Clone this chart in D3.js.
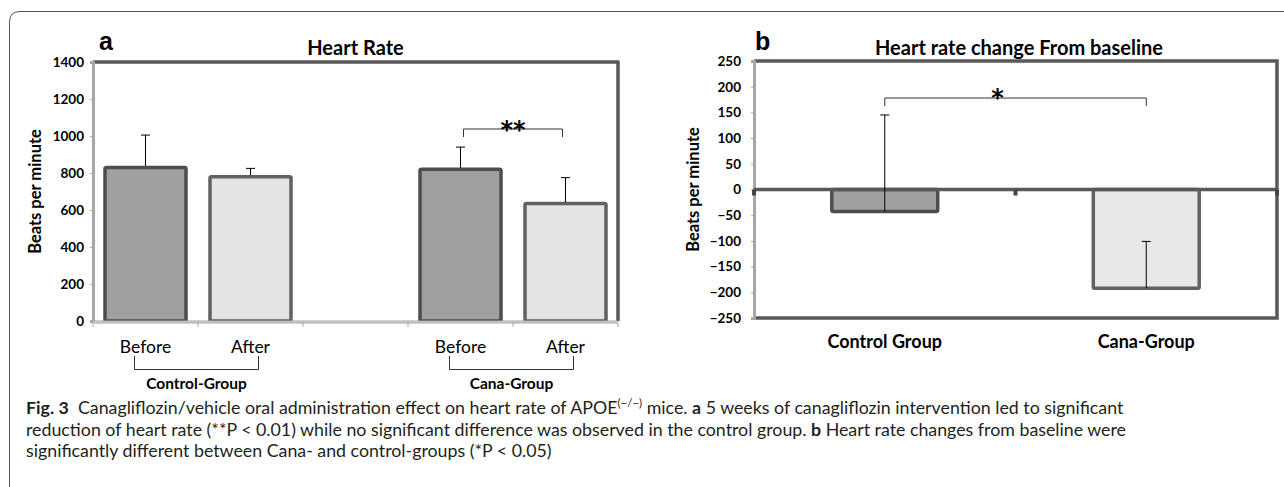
<!DOCTYPE html>
<html>
<head>
<meta charset="utf-8">
<script src="https://cdn.jsdelivr.net/npm/d3@7"></script>
<style>
  body { margin: 0; background: #fff; }
  svg { display: block; }
</style>
</head>
<body>
<svg id="fig"></svg>
<script>
//panel a data
const heartCategories = ["Before", "After", "", "Before", "After"];
const heartMeans = [830, 780, null, 820, 635];
const heartErrors = [175, 45, null, 120, 140];
const heartTicks = [0, 200, 400, 600, 800, 1000, 1200, 1400];
const heartGroups = ["Control-Group", "", "Cana-Group"];

//panel b data
const changeCategories = ["Control Group", "Cana-Group"];
const changeMeans = [-43, -192];
const changeErrors = [188, 91];
const changeTicks = [-250, -200, -150, -100, -50, 0, 50, 100, 150, 200, 250];

//caption
const captionLines = [
  [["b", "Fig. 3"], ["r", "  Canagliflozin/vehicle oral administration effect on heart rate of APOE"], ["sup", "(−/−)"], ["r", " mice. "], ["b", "a"], ["r", " 5 weeks of canagliflozin intervention led to significant"]],
  [["r", "reduction of heart rate (**P < 0.01) while no significant difference was observed in the control group. "], ["b", "b"], ["r", " Heart rate changes from baseline were"]],
  [["r", "significantly different between Cana- and control-groups (*P < 0.05)"]]
];

const W = 1284, H = 487;
const chartFont = "Lato, 'Open Sans', sans-serif";
const svg = d3.select("#fig").attr("width", W).attr("height", H)
  .attr("viewBox", [0, 0, W, H]);

//outer rounded frame
svg.append("path")
  .attr("d", `M9.5,${H} L9.5,22 Q9.5,11.5 20,11.5 L${W},11.5`)
  .attr("fill", "none").attr("stroke", "#555").attr("stroke-width", 1);

const dark = "#595959", light = "#a6a6a6";

function errorBar(g, x, y0, y1) {
  g.append("line").attr("x1", x).attr("x2", x).attr("y1", y0).attr("y2", y1)
    .attr("stroke", "#000").attr("stroke-width", 1);
  g.append("line").attr("x1", x - 4.5).attr("x2", x + 4.5).attr("y1", y1).attr("y2", y1)
    .attr("stroke", "#000").attr("stroke-width", 1);
}

function bracketDown(g, x1, x2, y, h) {
  g.append("path").attr("d", `M${x1},${y + h}V${y}H${x2}V${y + h}`)
    .attr("fill", "none").attr("stroke", "#333").attr("stroke-width", 1);
}

function styleYAxis(axis) {
  axis.select(".domain").attr("stroke", light).attr("stroke-width", 3);
  axis.selectAll(".tick line").attr("stroke", light);
  axis.selectAll("text").attr("font-family", chartFont).attr("font-weight", "bold")
    .attr("font-size", 13.5).attr("fill", "#000");
}

// ---------- panel a ----------
{
  const g = svg.append("g");
  const x = d3.scaleBand().domain(d3.range(heartCategories.length))
    .range([93, 618]).paddingInner(0.2).paddingOuter(0.1);
  const y = d3.scaleLinear().domain([0, 1400]).range([321, 62]);
  const step = x.step();

  //frame: top and right dark, left and bottom light
  g.append("line").attr("x1", 93).attr("x2", 619.5).attr("y1", y(1400)).attr("y2", y(1400))
    .attr("stroke", dark).attr("stroke-width", 3.5);
  g.append("line").attr("x1", 618).attr("x2", 618).attr("y1", y(1400)).attr("y2", y(0))
    .attr("stroke", dark).attr("stroke-width", 3.5);

  //y axis
  const yAxis = g.append("g").attr("transform", "translate(93,0)")
    .call(d3.axisLeft(y).tickValues(heartTicks).tickFormat(d3.format("d"))
      .tickSize(3).tickPadding(6));
  styleYAxis(yAxis);

  //bars
  heartMeans.forEach((v, i) => {
    if (v == null) return;
    const before = heartCategories[i] === "Before";
    g.append("rect")
      .attr("x", x(i) + 1.5).attr("width", x.bandwidth() - 3)
      .attr("y", y(v)).attr("height", y(0) - y(v))
      .attr("rx", 1.5)
      .attr("fill", before ? "#a0a0a0" : "#e4e4e4")
      .attr("stroke", before ? "#4d4d4d" : "#616161").attr("stroke-width", 3.5);
  });

  //x axis (bottom)
  const xAxisY = y(0) + 1;
  g.append("line").attr("x1", 93).attr("x2", 618).attr("y1", xAxisY).attr("y2", xAxisY)
    .attr("stroke", light).attr("stroke-width", 3);
  g.append("line").attr("x1", 93).attr("x2", 618).attr("y1", xAxisY).attr("y2", xAxisY)
    .attr("stroke", "#d9d9d9").attr("stroke-width", 1);
  d3.range(heartCategories.length + 1).forEach(i => {
    const xx = 93 + i * step;
    g.append("line").attr("x1", xx).attr("x2", xx).attr("y1", xAxisY).attr("y2", xAxisY + 5)
      .attr("stroke", light).attr("stroke-width", 1);
  });

  //error bars
  heartMeans.forEach((v, i) => {
    if (v == null) return;
    const cx = x(i) + x.bandwidth() / 2;
    errorBar(g, cx, y(v) - 1.5, y(v + heartErrors[i]));
  });

  //category labels
  heartCategories.forEach((c, i) => {
    if (!c) return;
    g.append("text").attr("x", x(i) + x.bandwidth() / 2).attr("y", 353)
      .attr("text-anchor", "middle").attr("font-family", chartFont)
      .attr("font-size", 17.5).attr("fill", "#000").text(c);
  });

  //group brackets and labels
  heartGroups.forEach((label, k) => {
    if (!label) return;
    const i0 = k === 0 ? 0 : 3;
    const x1 = x(i0) + x.bandwidth() / 2 - 11;
    const x2 = x(i0 + 1) + x.bandwidth() / 2 + 8;
    g.append("path").attr("d", `M${x1},356V369.5H${x2}V356`)
      .attr("fill", "none").attr("stroke", "#333").attr("stroke-width", 1);
    g.append("text").attr("x", (x1 + x2) / 2).attr("y", 389)
      .attr("text-anchor", "middle").attr("font-family", chartFont)
      .attr("font-weight", "bold").attr("font-size", 15.5).attr("fill", "#000").text(label);
  });

  //significance
  const sx1 = x(3) + x.bandwidth() / 2 + 3, sx2 = x(4) + x.bandwidth() / 2 - 3;
  bracketDown(g, sx1, sx2, 129, 8);
  g.append("text").attr("x", (sx1 + sx2) / 2).attr("y", 137.5)
    .attr("text-anchor", "middle").attr("font-family", "'DejaVu Sans', sans-serif")
    .attr("font-weight", "bold").attr("font-size", 24).attr("fill", "#000").text("**");

  //titles
  g.append("text").attr("x", 355.5).attr("y", 55).attr("text-anchor", "middle")
    .attr("font-family", chartFont).attr("font-weight", "bold").attr("font-size", 20)
    .attr("fill", "#000").text("Heart Rate");
  g.append("text").attr("x", 99).attr("y", 50).attr("font-family", "'Liberation Sans', Arial, sans-serif")
    .attr("font-weight", "bold").attr("font-size", 25).attr("fill", "#000").text("a");
  g.append("text").attr("transform", `translate(41,${(y(0) + y(1400)) / 2}) rotate(-90)`)
    .attr("text-anchor", "middle").attr("font-family", chartFont).attr("font-weight", "bold")
    .attr("font-size", 16.5).attr("fill", "#000").text("Beats per minute");
}

// ---------- panel b ----------
{
  const g = svg.append("g");
  const x = d3.scaleBand().domain(d3.range(changeCategories.length))
    .range([754, 1277]).paddingInner(0.595).paddingOuter(0.2975);
  const y = d3.scaleLinear().domain([-250, 250]).range([318, 61]);
  const step = x.step();

  //frame: top, right, bottom dark
  g.append("path").attr("d", `M754,${y(250)}H1277V${y(-250)}H754`)
    .attr("fill", "none").attr("stroke", dark).attr("stroke-width", 3.5);

  //y axis
  const yAxis = g.append("g").attr("transform", "translate(754,0)")
    .call(d3.axisLeft(y).tickValues(changeTicks).tickSize(3).tickPadding(10));
  styleYAxis(yAxis);

  //bars
  changeMeans.forEach((v, i) => {
    g.append("rect")
      .attr("x", x(i)).attr("width", x.bandwidth())
      .attr("y", y(0)).attr("height", y(v) - y(0))
      .attr("rx", 1.5)
      .attr("fill", i === 0 ? "#a0a0a0" : "#e8e8e8")
      .attr("stroke", i === 0 ? "#4d4d4d" : "#616161").attr("stroke-width", 3.5);
  });

  //zero line with tick marks
  g.append("line").attr("x1", 754).attr("x2", 1277).attr("y1", y(0)).attr("y2", y(0))
    .attr("stroke", dark).attr("stroke-width", 3.5);
  d3.range(changeCategories.length + 1).forEach(i => {
    const xx = 754 + i * step;
    g.append("rect").attr("x", xx - 2).attr("y", y(0)).attr("width", 4).attr("height", 6)
      .attr("fill", "#444");
  });

  //error bars
  changeMeans.forEach((v, i) => {
    const cx = x(i) + x.bandwidth() / 2;
    errorBar(g, cx, y(v), y(v + changeErrors[i]));
  });

  //category labels
  changeCategories.forEach((c, i) => {
    g.append("text").attr("x", x(i) + x.bandwidth() / 2).attr("y", 348)
      .attr("text-anchor", "middle").attr("font-family", chartFont)
      .attr("font-weight", "bold").attr("font-size", 18).attr("fill", "#000").text(c);
  });

  //significance
  const sx1 = x(0) + x.bandwidth() / 2, sx2 = x(1) + x.bandwidth() / 2;
  bracketDown(g, sx1, sx2, 98, 8);
  g.append("text").attr("x", 997.5).attr("y", 106)
    .attr("text-anchor", "middle").attr("font-family", "'DejaVu Sans', sans-serif")
    .attr("font-weight", "bold").attr("font-size", 24).attr("fill", "#000").text("*");

  //titles
  g.append("text").attr("x", 1019).attr("y", 55).attr("text-anchor", "middle")
    .attr("font-family", chartFont).attr("font-weight", "bold").attr("font-size", 20)
    .attr("fill", "#000").text("Heart rate change From baseline");
  g.append("text").attr("x", 755).attr("y", 50).attr("font-family", "'Liberation Sans', Arial, sans-serif")
    .attr("font-weight", "bold").attr("font-size", 25).attr("fill", "#000").text("b");
  g.append("text").attr("transform", `translate(699,${(y(-250) + y(250)) / 2}) rotate(-90)`)
    .attr("text-anchor", "middle").attr("font-family", chartFont).attr("font-weight", "bold")
    .attr("font-size", 16.5).attr("fill", "#000").text("Beats per minute");
}

// ---------- caption ----------
{
  const cap = svg.append("g").attr("font-family", "Lato, 'Open Sans', sans-serif")
    .attr("font-size", 17.8).attr("fill", "#231f20");
  const baselines = [414, 435.5, 457];
  captionLines.forEach((parts, li) => {
    const t = cap.append("text").attr("x", 26).attr("y", baselines[li])
      .style("white-space", "pre");
    parts.forEach(([kind, str]) => {
      const ts = t.append("tspan").text(str);
      if (kind === "b") ts.attr("font-weight", "bold");
      if (kind === "sup") ts.attr("font-size", 11.5).attr("dy", -7);
      if (kind === "r" && li === 0 && str.startsWith(" mice")) ts.attr("dy", 7);
    });
  });
}
</script>
</body>
</html>
